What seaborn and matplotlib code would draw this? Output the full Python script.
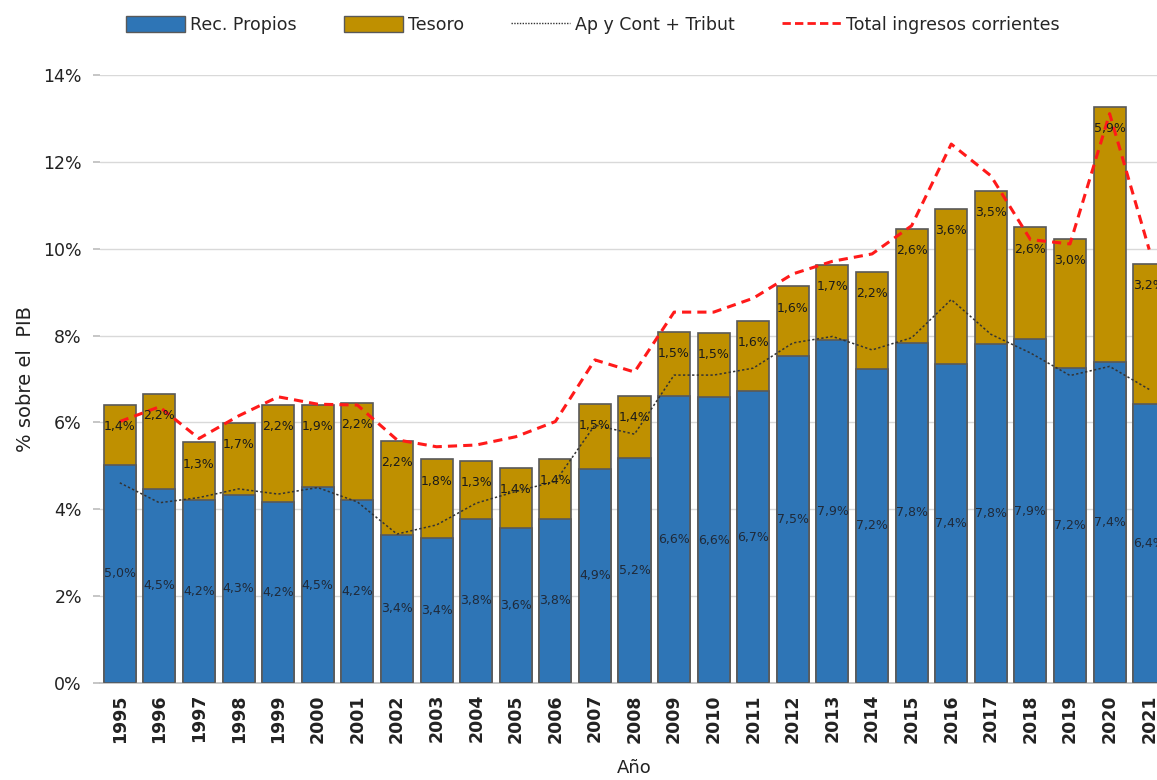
import matplotlib
matplotlib.use("Agg")
import matplotlib.pyplot as plt
import seaborn as sns
import numpy as np
import pandas as pd
from matplotlib.patches import Patch
from matplotlib.lines import Line2D

years = [str(y) for y in range(1995, 2022)]
rec_propios = [5.02, 4.47, 4.21, 4.33, 4.16, 4.51, 4.21, 3.41, 3.35, 3.78, 3.58, 3.78, 4.93, 5.18,
               6.61, 6.58, 6.72, 7.53, 7.90, 7.24, 7.84, 7.35, 7.81, 7.91, 7.25, 7.38, 6.43]
tesoro = [1.38, 2.18, 1.33, 1.66, 2.24, 1.89, 2.24, 2.16, 1.80, 1.33, 1.37, 1.38, 1.49, 1.44,
          1.47, 1.48, 1.62, 1.60, 1.73, 2.22, 2.62, 3.57, 3.52, 2.58, 2.98, 5.89, 3.22]
ap_cont_tribut = [4.61, 4.15, 4.27, 4.47, 4.35, 4.50, 4.17, 3.43, 3.64, 4.14, 4.41, 4.64, 5.94, 5.73,
                  7.09, 7.09, 7.25, 7.83, 7.98, 7.67, 7.95, 8.83, 8.03, 7.60, 7.08, 7.29, 6.76]
total_corrientes = [6.02, 6.36, 5.63, 6.15, 6.59, 6.42, 6.40, 5.60, 5.44, 5.48, 5.67, 6.02, 7.44, 7.16,
                    8.54, 8.54, 8.86, 9.42, 9.71, 9.88, 10.53, 12.41, 11.68, 10.21, 10.11, 13.11, 9.98]
rec_labels = ["5,0%", "4,5%", "4,2%", "4,3%", "4,2%", "4,5%", "4,2%", "3,4%", "3,4%", "3,8%", "3,6%",
              "3,8%", "4,9%", "5,2%", "6,6%", "6,6%", "6,7%", "7,5%", "7,9%", "7,2%", "7,8%", "7,4%",
              "7,8%", "7,9%", "7,2%", "7,4%", "6,4%"]
tes_labels = ["1,4%", "2,2%", "1,3%", "1,7%", "2,2%", "1,9%", "2,2%", "2,2%", "1,8%", "1,3%", "1,4%",
              "1,4%", "1,5%", "1,4%", "1,5%", "1,5%", "1,6%", "1,6%", "1,7%", "2,2%", "2,6%", "3,6%",
              "3,5%", "2,6%", "3,0%", "5,9%", "3,2%"]
yticks = [0, 2, 4, 6, 8, 10, 12, 14]

BLUE = "#2E75B6"
GOLD = "#BF9000"
EDGE = "#595959"

sns.set_theme(style="white")
plt.rcParams['font.family'] = ['DejaVu Sans']

df = pd.DataFrame({"year": years, "rec": rec_propios, "tes": tesoro,
                   "ap": ap_cont_tribut, "tot": total_corrientes})
df["stack"] = df["rec"] + df["tes"]
df["pos"] = np.arange(len(df))

fig = plt.figure(figsize=(11.57, 7.8), dpi=100)
ax = fig.add_axes([100/1157, 97/780, 1069/1157, 608/780])

sns.barplot(data=df, x="year", y="stack", color=GOLD, edgecolor=EDGE, linewidth=1.2,
            width=0.81, saturation=1, ax=ax, zorder=2)
sns.barplot(data=df, x="year", y="rec", color=BLUE, edgecolor=EDGE, linewidth=1.2,
            width=0.81, saturation=1, ax=ax, zorder=3)

sns.lineplot(data=df, x="pos", y="ap", color="#333333", linestyle=(0, (1.5, 1.5)),
             linewidth=1.1, ax=ax, zorder=5)
sns.lineplot(data=df, x="pos", y="tot", color="#FF1A1A", linestyle=(0, (3, 2)),
             linewidth=2.2, ax=ax, zorder=6)

for i in range(len(df)):
    ax.text(i, rec_propios[i] / 2, rec_labels[i], ha="center", va="center",
            fontsize=9, color="#1F2A3A", zorder=7)
    ax.text(i, rec_propios[i] + tesoro[i] - 0.5, tes_labels[i], ha="center", va="center",
            fontsize=9, color="#1A1A1A", zorder=7)

ax.set_xlim(-0.5, len(df) - 0.5)
ax.set_ylim(0, 14)
ax.set_yticks(yticks)
ax.set_yticklabels([f"{v}%" for v in yticks], fontsize=12.5, color="#222222")
ax.yaxis.grid(True, color="#D9D9D9", linewidth=1)
ax.set_axisbelow(True)
ax.tick_params(axis="y", length=5, color="#BFBFBF", left=True, pad=8)
ax.tick_params(axis="x", rotation=90, labelsize=12.5, length=0, pad=8)
for lbl in ax.get_xticklabels():
    lbl.set_fontweight("bold")
    lbl.set_color("#222222")
for s in ["top", "right", "left"]:
    ax.spines[s].set_visible(False)
ax.spines["bottom"].set_color("#BFBFBF")
ax.set_xlabel("Año", fontsize=13, labelpad=12, color="#222222")
ax.set_ylabel("% sobre el  PIB", fontsize=14, labelpad=6, color="#222222")

handles = [Patch(facecolor=BLUE, edgecolor=EDGE, linewidth=1),
           Patch(facecolor=GOLD, edgecolor=EDGE, linewidth=1),
           Line2D([0], [0], color="#333333", linestyle=(0, (1, 1)), linewidth=1),
           Line2D([0], [0], color="#FF1A1A", linestyle=(0, (3, 1.5)), linewidth=2)]
labels = ["Rec. Propios", "Tesoro", "Ap y Cont + Tribut", "Total ingresos corrientes"]
fig.legend(handles, labels, loc="center", bbox_to_anchor=(593/1157, 1 - 25/780), ncol=4,
           frameon=False, handlelength=3.4, handleheight=1.0,
           columnspacing=2.7, handletextpad=0.3,
           prop={"family": ["DejaVu Sans"], "size": 12.5})

fig.savefig("out.png", dpi=100)
